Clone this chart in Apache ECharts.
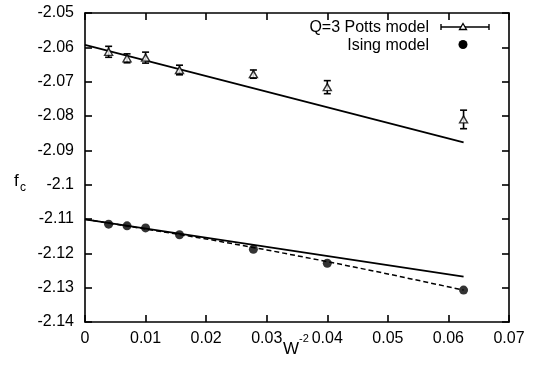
<!DOCTYPE html>
<html><head><meta charset="utf-8">
<script src="https://cdn.jsdelivr.net/npm/echarts@6/dist/echarts.min.js"></script>
<style>html,body{margin:0;padding:0;background:#fff}#c{width:538px;height:368px}</style>
</head><body><div id="c"></div>
<script>
// W^-2 values
const xVals = [0.0039, 0.00694, 0.01, 0.0156, 0.0278, 0.04, 0.0625];
// Q=3 Potts model
const pottsY = [-2.0613, -2.0632, -2.0630, -2.0666, -2.0678, -2.0716, -2.0810];
const pottsErr = [0.0016, 0.0013, 0.0016, 0.0014, 0.0012, 0.0019, 0.0027];
// Ising model
const isingY = [-2.1115, -2.1120, -2.1126, -2.1146, -2.1188, -2.1229, -2.1307];
// linear fits
const fitX = [0, 0.0625];
const pottsFitY = [-2.0593, -2.0877];
const isingFitY = [-2.1101, -2.1268];
// quadratic fit (dashed)
const quadX = [0, 0.01, 0.02, 0.03, 0.04, 0.05, 0.0625];
const quadY = [-2.1101, -2.1129, -2.1158, -2.1190, -2.1224, -2.1260, -2.1307];
// ticks
const xTicks = ['0','0.01','0.02','0.03','0.04','0.05','0.06','0.07'];
const yTicks = ['-2.14','-2.13','-2.12','-2.11','-2.1','-2.09','-2.08','-2.07','-2.06','-2.05'];

const FONT = 'Liberation Sans, Arial, sans-serif';
const chart = echarts.init(document.getElementById('c'), null, {renderer:'canvas'});
const zip = (a,b)=>a.map((v,i)=>[v,b[i]]);
const fmt = v => parseFloat(v.toFixed(2)).toString();
const axBase = {
  axisLine:{show:true, onZero:false, lineStyle:{color:'#000', width:1.6}},
  axisTick:{show:true, inside:true, length:7, lineStyle:{color:'#000', width:1.6}},
  splitLine:{show:false}
};
const lbl = {color:'#000', fontFamily:FONT, fontSize:16, formatter:fmt};
chart.setOption({
  animation:false,
  backgroundColor:'#fff',
  grid:{left:85, right:29, top:13, bottom:46},
  xAxis:[
    Object.assign({type:'value', min:0, max:0.07, interval:0.01, position:'bottom',
      axisLabel:Object.assign({margin:9}, lbl)}, axBase),
    Object.assign({type:'value', min:0, max:0.07, interval:0.01, position:'top',
      axisLabel:{show:false}}, axBase)
  ],
  yAxis:[
    Object.assign({type:'value', min:-2.14, max:-2.05, interval:0.01, position:'left',
      axisLabel:Object.assign({margin:11}, lbl)}, axBase),
    Object.assign({type:'value', min:-2.14, max:-2.05, interval:0.01, position:'right',
      axisLabel:{show:false}}, axBase)
  ],
  series:[
    {type:'line', data:zip(fitX,pottsFitY), symbol:'none', lineStyle:{color:'#000', width:1.7}},
    {type:'line', data:zip(fitX,isingFitY), symbol:'none', lineStyle:{color:'#000', width:1.7}},
    {type:'line', data:zip(quadX,quadY), symbol:'none', lineStyle:{color:'#000', width:1.5, type:[5,3]}},
    {type:'custom', data:xVals.map((x,i)=>[x,pottsY[i]-pottsErr[i],pottsY[i]+pottsErr[i]]),
      renderItem:function(params, api){
        const lo = api.coord([api.value(0), api.value(1)]);
        const hi = api.coord([api.value(0), api.value(2)]);
        const w = 3.5, st={stroke:'#000', lineWidth:1.6};
        return {type:'group', children:[
          {type:'line', shape:{x1:lo[0],y1:lo[1],x2:hi[0],y2:hi[1]}, style:st},
          {type:'line', shape:{x1:lo[0]-w,y1:lo[1],x2:lo[0]+w,y2:lo[1]}, style:st},
          {type:'line', shape:{x1:hi[0]-w,y1:hi[1],x2:hi[0]+w,y2:hi[1]}, style:st}
        ]};
      }, z:3},
    {type:'scatter', data:zip(xVals,pottsY), symbol:'triangle', symbolSize:[8,7],
      itemStyle:{color:'#fff', borderColor:'#000', borderWidth:1.4}, z:4},
    {type:'scatter', data:zip(xVals,isingY), symbol:'circle', symbolSize:9,
      itemStyle:{color:'#000'}, z:4}
  ],
  graphic:[
    {type:'text', x:429, y:28, style:{text:'Q=3 Potts model', font:'16px '+FONT, fill:'#000', textAlign:'right', textVerticalAlign:'middle'}},
    {type:'text', x:429, y:46, style:{text:'Ising model', font:'16px '+FONT, fill:'#000', textAlign:'right', textVerticalAlign:'middle'}},
    {type:'line', shape:{x1:441,y1:27,x2:489,y2:27}, style:{stroke:'#000', lineWidth:1.4}},
    {type:'line', shape:{x1:441,y1:24,x2:441,y2:30}, style:{stroke:'#000', lineWidth:1.4}},
    {type:'line', shape:{x1:489,y1:24,x2:489,y2:30}, style:{stroke:'#000', lineWidth:1.4}},
    {type:'polygon', shape:{points:[[463,23.5],[466.5,29.5],[459.5,29.5]]}, style:{fill:'#fff', stroke:'#000', lineWidth:1.3}},
    {type:'circle', shape:{cx:463, cy:44.5, r:4.5}, style:{fill:'#000'}},
    {type:'text', x:283, y:349, style:{text:'W', font:'17px '+FONT, fill:'#000', textVerticalAlign:'middle'}},
    {type:'text', x:299, y:339, style:{text:'-2', font:'11px '+FONT, fill:'#000', textVerticalAlign:'middle'}},
    {type:'text', x:14, y:181, style:{text:'f', font:'17px '+FONT, fill:'#000', textVerticalAlign:'middle'}},
    {type:'text', x:20, y:188, style:{text:'c', font:'12px '+FONT, fill:'#000', textVerticalAlign:'middle'}}
  ]
});
</script></body></html>
